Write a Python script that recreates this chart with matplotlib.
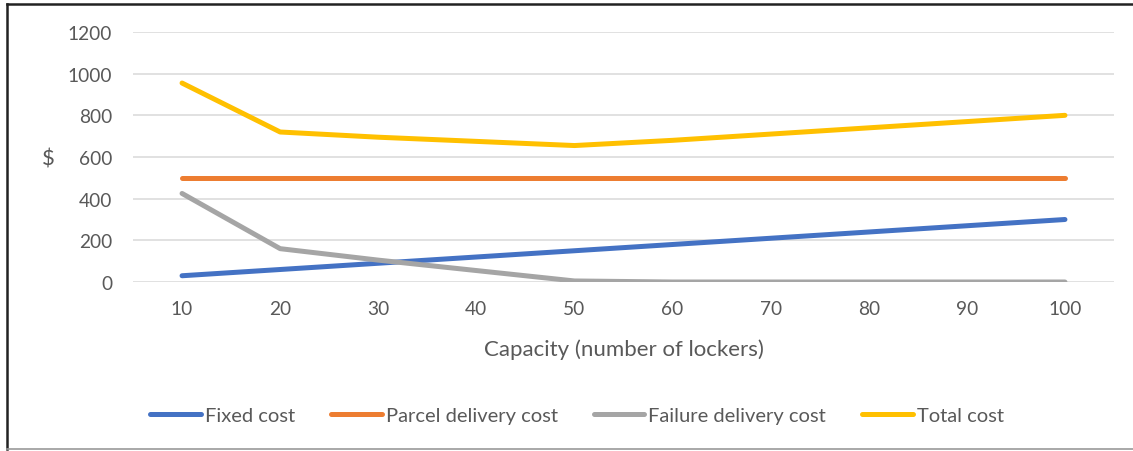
import matplotlib
matplotlib.use("Agg")
import matplotlib.pyplot as plt
from matplotlib.lines import Line2D

capacity = ["10", "20", "30", "40", "50", "60", "70", "80", "90", "100"]
fixed_cost = [30, 60, 90, 120, 150, 180, 210, 240, 270, 300]
parcel_cost = [500, 500, 500, 500, 500, 500, 500, 500, 500, 500]
failure_cost = [425, 160, 105, 55, 5, 0, 0, 0, 0, 0]
total_cost = [955, 720, 695, 675, 655, 680, 710, 740, 770, 800]

series = [
    ("Fixed cost", fixed_cost, "#4472C4"),
    ("Parcel delivery cost", parcel_cost, "#ED7D31"),
    ("Failure delivery cost", failure_cost, "#A5A5A5"),
    ("Total cost", total_cost, "#FFC000"),
]

plt.rcParams["font.family"] = ["Lato", "DejaVu Sans"]
text_color = "#595959"

fig = plt.figure(figsize=(11.33, 4.52), dpi=100)
ax = fig.add_axes([133 / 1133, 1 - 283 / 452, (1114 - 133) / 1133, 250 / 452])

x = list(range(len(capacity)))
for label, values, color in series:
    ax.plot(x, values, color=color, lw=3.6, solid_capstyle="round", label=label, zorder=3)

ax.set_xlim(-0.5, len(capacity) - 0.5)
ax.set_ylim(0, 1200)
ax.set_yticks(range(0, 1201, 200))
ax.set_xticks(x)
ax.set_xticklabels(capacity)
ax.grid(True, axis="y", color="#D9D9D9", lw=1.1)
ax.set_axisbelow(True)
for s in ax.spines.values():
    s.set_visible(False)
ax.tick_params(length=0, labelsize=13.8, labelcolor=text_color)
ax.tick_params(axis="y", pad=15)
ax.tick_params(axis="x", pad=13)

ax.set_ylabel(r"\$", rotation=0, fontsize=16, color=text_color, va="center")
ax.yaxis.set_label_coords(-(133 - 48) / 981, (283 - 160) / 250)
ax.set_xlabel("Capacity (number of lockers)", fontsize=16, color=text_color, va="center")
ax.xaxis.set_label_coords(0.5, -(350 - 283) / 250)

leg = fig.legend(
    loc="center",
    bbox_to_anchor=(577 / 1133, 1 - 416 / 452),
    ncol=4,
    frameon=False,
    fontsize=14.5,
    handlelength=2.5,
    handletextpad=0.2,
    columnspacing=1.8,
)
for t in leg.get_texts():
    t.set_color(text_color)

# outer frame: dark top and left edge, light bottom edge, no right edge
left, top, bottom = 7 / 1133, 1 - 5 / 452, 1 - 450 / 452
fig.add_artist(Line2D([left, 1.0], [top, top], transform=fig.transFigure,
                      color="#222222", lw=1.8))
fig.add_artist(Line2D([left, left], [bottom, top], transform=fig.transFigure,
                      color="#222222", lw=1.8))
fig.add_artist(Line2D([left, 1.0], [bottom, bottom], transform=fig.transFigure,
                      color="#9a9a9a", lw=1.2))

fig.savefig("out.png", dpi=100)
